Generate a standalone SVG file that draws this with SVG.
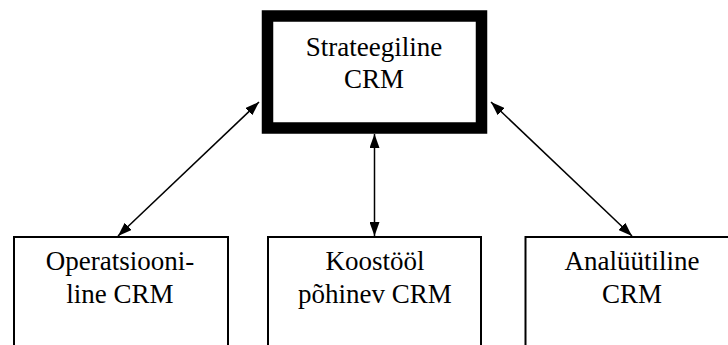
<svg xmlns="http://www.w3.org/2000/svg" width="728" height="345" viewBox="0 0 728 345">
<style>
.box{fill:#fff;stroke:#000;stroke-width:2}
.main{fill:#fff;stroke:#000;stroke-width:11.5}
.t{font-family:"Liberation Serif","Times New Roman",serif;font-size:27px;fill:#000;text-anchor:middle}
.c{stroke:#000;stroke-width:1.5;fill:none;marker-start:url(#ah);marker-end:url(#ah)}
</style>
<defs>
<marker id="ah" viewBox="0 0 14 10" refX="14" refY="5" markerWidth="14" markerHeight="10" markerUnits="userSpaceOnUse" orient="auto-start-reverse">
<path d="M0,0 L14,5 L0,10 Z" fill="#000"/>
</marker>
</defs>
<g id="strateegiline">
<rect class="main" x="267.5" y="16" width="214" height="112"/>
<text class="t" x="374" y="56">Strateegiline</text>
<text class="t" x="374" y="88">CRM</text>
</g>
<g id="operatsiooniline">
<rect class="box" x="14" y="237" width="214" height="130"/>
<text class="t" x="120" y="270">Operatsiooni-</text>
<text class="t" x="120" y="302.5">line CRM</text>
</g>
<g id="koostool">
<rect class="box" x="268" y="237" width="213" height="130"/>
<text class="t" x="375" y="270">Koostööl</text>
<text class="t" x="375" y="302.5">põhinev CRM</text>
</g>
<g id="analuutiline">
<rect class="box" x="525.5" y="237" width="220" height="130"/>
<text class="t" x="632" y="270">Analüütiline</text>
<text class="t" x="632" y="302.5">CRM</text>
</g>
<g id="connectors">
<line class="c" x1="259" y1="102" x2="118" y2="236"/>
<line class="c" x1="374.5" y1="134" x2="374.5" y2="236"/>
<line class="c" x1="491" y1="102" x2="632" y2="236"/>
</g>
</svg>
